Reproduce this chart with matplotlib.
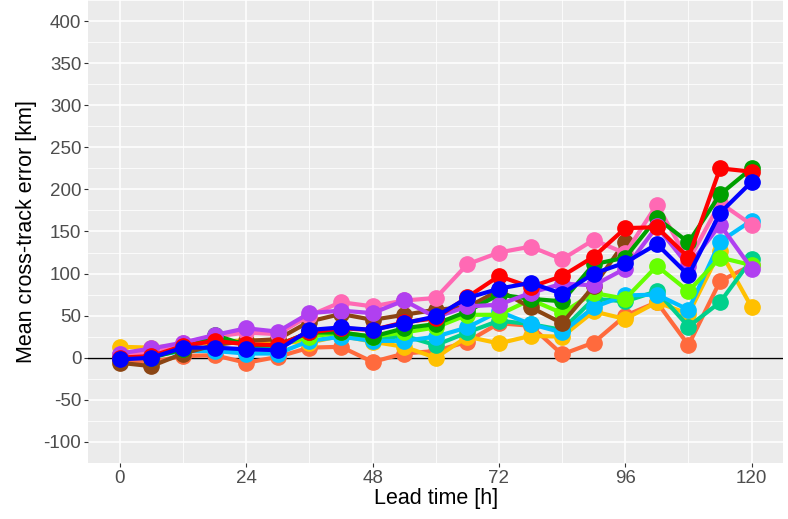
import matplotlib
matplotlib.use("Agg")
import matplotlib.pyplot as plt
from matplotlib.ticker import MultipleLocator

plt.rcParams['font.family'] = ['Liberation Sans', 'DejaVu Sans']
plt.rcParams['axes.unicode_minus'] = False

lead = [0, 6, 12, 18, 24, 30, 36, 42, 48, 54, 60, 66, 72, 78, 84, 90, 96, 102, 108, 114, 120]

tomato = [-3, -5, 2, 3, -6, 1, 12, 13, -5, 5, 8, 19, 41, 38, 4, 18, 50, 66, 15, 91, 110]
gold = [13, 12, 15, 18, 21, 19, 18, 26, 19, 13, 0, 25, 17, 26, 25, 55, 46, 66, 52, 127, 60]
teal = [2, 2, 9, 10, 10, 12, 28, 28, 22, 26, 15, 30, 44, 40, 33, 70, 67, 79, 37, 66, 117]
skyblue = [2, 2, 8, 8, 5, 5, 20, 25, 20, 20, 25, 36, 55, 40, 30, 60, 74, 75, 57, 138, 163]
lawngreen = [3, 3, 12, 25, 15, 15, 25, 30, 25, 30, 36, 51, 51, 69, 53, 77, 70, 109, 79, 119, 110]
brown = [-6, -10, 5, 15, 20, 22, 43, 52, 45, 51, 57, 60, 80, 60, 41, 85, 138]
pink = [5, 5, 18, 25, 30, 28, 50, 66, 61, 68, 71, 111, 125, 132, 117, 140, 124, 182, 115, 184, 158]
green = [0, 0, 10, 27, 15, 15, 30, 30, 25, 35, 40, 55, 75, 70, 67, 111, 119, 166, 137, 194, 225]
purple = [5, 11, 18, 27, 35, 31, 53, 56, 53, 68, 48, 61, 63, 77, 88, 86, 106, 156, 109, 158, 106]
red = [0, 2, 14, 20, 16, 15, 30, 35, 33, 42, 47, 72, 97, 84, 97, 120, 154, 155, 119, 225, 221]
blue = [-2, 0, 12, 12, 10, 9, 33, 36, 33, 41, 49, 71, 82, 89, 76, 100, 113, 135, 98, 172, 209]

series = [
    (tomato, '#FF6A3D'),
    (gold, '#FFC000'),
    (teal, '#00D08C'),
    (skyblue, '#00BFFF'),
    (lawngreen, '#66FF00'),
    (brown, '#8B4513'),
    (pink, '#FF69B4'),
    (green, '#00A000'),
    (purple, '#B040F0'),
    (red, '#FF0000'),
    (blue, '#0000FF'),
]

fig = plt.figure(figsize=(7.88, 5.19), dpi=100)
ax = fig.add_axes([0.112, 0.108, 0.882, 0.892])
ax.set_facecolor('#EBEBEB')

ax.axhline(0, color='black', lw=1.0, zorder=2)
for vals, col in series:
    ax.plot(lead[:len(vals)], vals, color=col, lw=3.0, marker='o', ms=11,
            solid_capstyle='round', zorder=3)

ax.set_xlim(-6, 126)
ax.set_ylim(-125, 425)
ax.xaxis.set_major_locator(MultipleLocator(24))
ax.xaxis.set_minor_locator(MultipleLocator(12))
ax.yaxis.set_major_locator(MultipleLocator(50))
ax.yaxis.set_minor_locator(MultipleLocator(25))
ax.grid(which='major', color='white', lw=1.1)
ax.grid(which='minor', color='white', lw=0.55)
ax.set_axisbelow(True)
for s in ax.spines.values():
    s.set_visible(False)
ax.tick_params(which='major', length=3, width=0.8, color='#333333',
               labelsize=13.5, labelcolor='#4D4D4D', pad=2)
ax.tick_params(which='minor', length=0)

ax.set_xlabel('Lead time [h]', fontsize=15.5, labelpad=1)
ax.set_ylabel('Mean cross-track error [km]', fontsize=15.5, labelpad=5)

fig.savefig('out.png', dpi=100)
